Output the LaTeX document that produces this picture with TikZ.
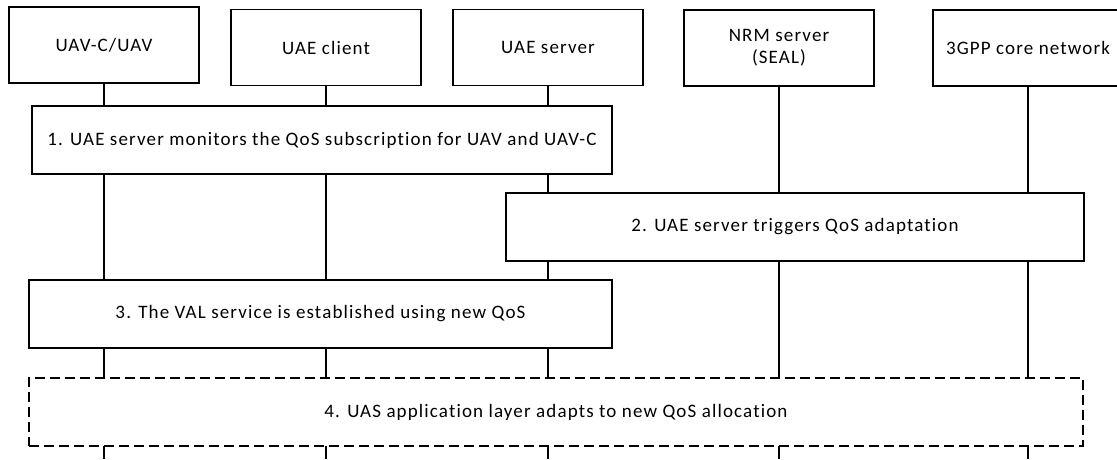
\documentclass[tikz,border=0pt]{standalone}
\usepackage{fontspec}
\setmainfont[LetterSpace=6,Ligatures={NoCommon}]{Carlito}
\newcommand{\lbl}{\fontsize{19}{22}\selectfont}
\tikzset{
  actor/.style={draw, fill=white, line width=1.2pt, minimum width=190pt, minimum height=76pt, align=center, font=\lbl},
  stepbox/.style={draw, fill=white, line width=1.2pt, minimum height=68pt, align=center, font=\lbl},
  optbox/.style={stepbox, dash pattern=on 10pt off 5pt},
  life/.style={draw, line width=1.2pt},
}

\begin{document}
\begin{tikzpicture}[x=1pt,y=-1pt]
  \useasboundingbox (0,0) rectangle (1117,459);
  \clip (0,0) rectangle (1117,459);
  \coordinate (bot) at (0,459);
  % entities
  \node[actor] (uav)  at (104,45)   {UAV-C/UAV};
  \node[actor] (cli)  at (326,47.5) {UAE client};
  \node[actor] (srv)  at (548,47.5) {UAE server};
  \node[actor] (nrm)  at (779,48)   {NRM server\\(SEAL)};
  \node[actor] (core) at (1028,48)  {3GPP core network};
  % lifelines
  \foreach \n in {uav,cli,srv,nrm,core} {
    \coordinate (\n end) at (\n |- bot);
    \draw[life] (\n) -- (\n end);
  }
  % steps
  \node[stepbox, minimum width=580pt] (s1) at (322,140) {1. UAE server monitors the QoS subscription for UAV and UAV-C};
  \node[stepbox, minimum width=578pt] (s2) at (795,227) {2. UAE server triggers QoS adaptation};
  \node[stepbox, minimum width=583pt] (s3) at (320.5,314) {3. The VAL service is established using new QoS};
  \node[optbox, minimum width=1054pt] (s4) at (556,412) {4. UAS application layer adapts to new QoS allocation};
\end{tikzpicture}
\end{document}
